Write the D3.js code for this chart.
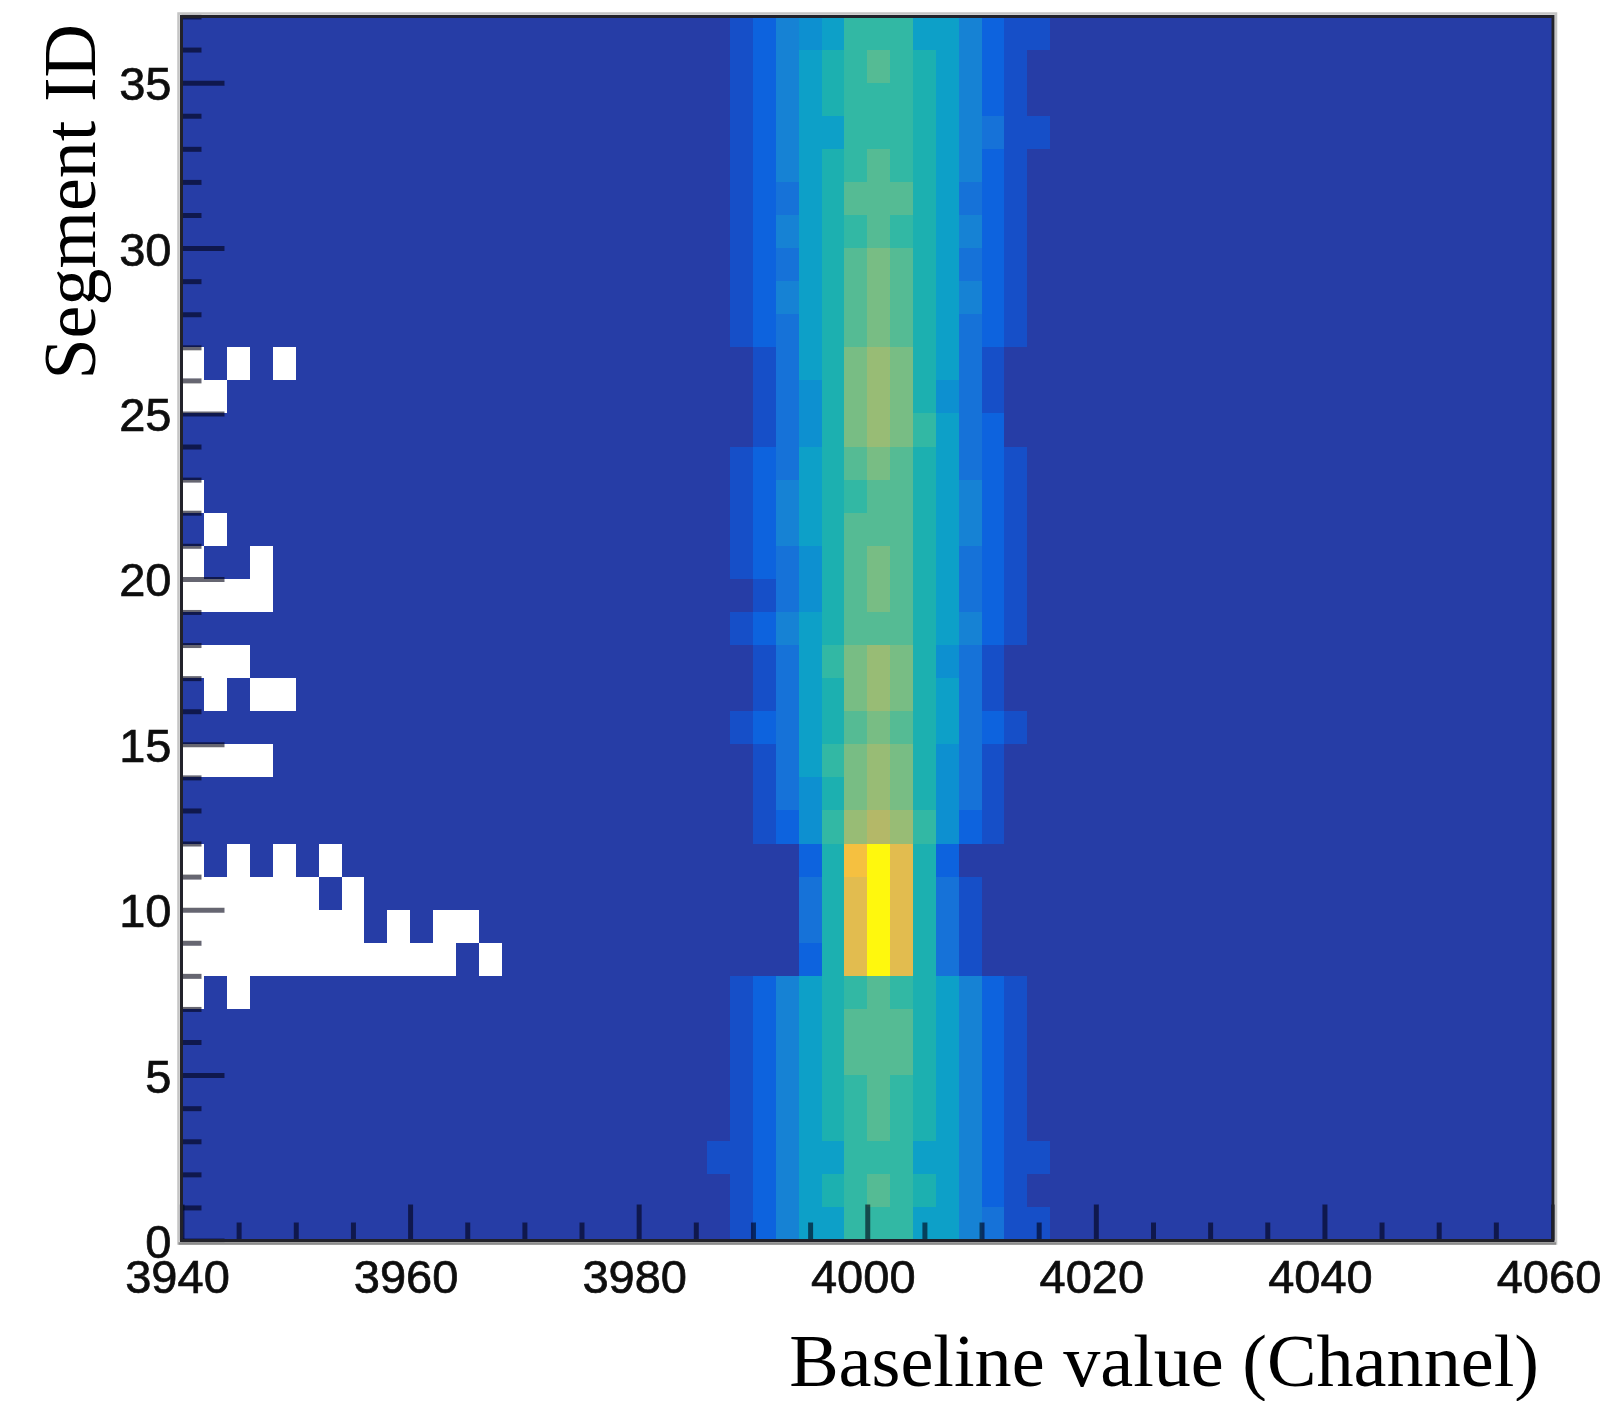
<!DOCTYPE html>
<html>
<head>
<meta charset="utf-8">
<script src="https://cdnjs.cloudflare.com/ajax/libs/d3/7.8.5/d3.min.js"></script>
<style>
html,body{margin:0;padding:0;background:#fff;}
svg{display:block;}
</style>
</head>
<body>
<svg id="chart" width="1619" height="1401"></svg>
<script>
// Channel at the lower edge of each coloured column around the peak
const bandChannels = [3986,3988,3990,3992,3994,3996,3998,4000,4002,4004,4006,4008,4010,4012,4014];
// Count level per segment (segment 0 first), one entry per band channel
const segmentLevels = [
 [0,1,2,4,6,6,8,8,8,6,6,4,3,1,1],   // 0
 [0,1,2,4,6,7,8,9,8,7,6,4,2,1,0],   // 1
 [1,1,2,4,6,6,8,8,8,6,6,4,2,1,1],   // 2
 [0,1,2,4,6,7,8,9,8,7,6,4,2,1,0],   // 3
 [0,1,2,4,6,7,8,9,8,7,6,4,2,1,0],   // 4
 [0,1,2,4,6,7,9,9,9,7,6,4,2,1,0],   // 5
 [0,1,2,4,6,7,9,9,9,7,6,4,2,1,0],   // 6
 [0,1,2,4,6,7,8,9,8,7,6,4,2,1,0],   // 7
 [0,0,0,0,2,7,13,15,13,7,3,1,0,0,0],// 8
 [0,0,0,0,3,7,13,15,13,7,3,1,0,0,0],// 9
 [0,0,0,0,3,7,13,15,13,7,3,1,0,0,0],// 10
 [0,0,0,0,2,7,14,15,13,7,2,0,0,0,0],// 11
 [0,0,1,2,5,8,11,12,11,8,5,2,1,0,0],// 12
 [0,0,1,3,5,7,10,11,10,7,5,3,1,0,0],// 13
 [0,0,1,3,6,8,10,11,10,7,5,3,1,0,0],// 14
 [0,1,2,3,6,7,9,10,9,7,6,3,2,1,0],  // 15
 [0,0,1,3,6,7,10,11,10,7,6,3,1,0,0],// 16
 [0,0,1,3,6,8,10,11,10,7,5,3,1,0,0],// 17
 [0,1,2,4,6,7,9,9,9,7,6,4,2,1,0],   // 18
 [0,0,1,3,5,7,9,10,9,7,6,3,2,1,0],  // 19
 [0,1,2,3,5,7,9,10,9,7,6,3,2,1,0],  // 20
 [0,1,2,4,6,7,9,9,9,7,6,4,2,1,0],   // 21
 [0,1,2,4,6,7,8,9,9,7,6,4,2,1,0],   // 22
 [0,1,2,3,6,7,9,10,9,7,6,3,2,1,0],  // 23
 [0,0,1,3,5,7,10,11,10,8,6,3,2,0,0],// 24
 [0,0,1,3,5,7,10,11,10,7,5,3,1,0,0],// 25
 [0,0,1,3,6,7,10,11,10,7,6,3,1,0,0],// 26
 [0,1,2,3,6,7,9,10,9,7,6,3,2,1,0],  // 27
 [0,1,2,4,6,7,9,10,9,7,6,4,2,1,0],  // 28
 [0,1,2,3,6,7,9,10,9,7,6,3,2,1,0],  // 29
 [0,1,2,4,6,7,8,9,8,7,6,4,2,1,0],   // 30
 [0,1,2,3,6,7,9,9,9,7,6,3,2,1,0],   // 31
 [0,1,2,4,6,7,8,9,8,7,6,4,2,1,0],   // 32
 [0,1,2,4,6,6,8,8,8,7,6,4,3,1,1],   // 33
 [0,1,2,4,6,7,8,8,8,7,6,4,2,1,0],   // 34
 [0,1,2,4,6,7,8,9,8,7,6,4,2,1,0],   // 35
 [0,1,2,4,5,6,8,8,8,6,6,4,2,1,1]    // 36
];
// Empty (white) cells: segment and the lower-edge channels with no entries
const emptySegments = [7,8,9,10,11,14,16,17,19,20,21,22,25,26];
const emptyChannels = [
 [3940,3944],
 [3940,3942,3944,3946,3948,3950,3952,3954,3956,3958,3960,3962,3966],
 [3940,3942,3944,3946,3948,3950,3952,3954,3958,3962,3964],
 [3940,3942,3944,3946,3948,3950,3954],
 [3940,3944,3948,3952],
 [3940,3942,3944,3946],
 [3942,3946,3948],
 [3940,3942,3944],
 [3940,3942,3944,3946],
 [3940,3946],
 [3942],
 [3940],
 [3940,3942],
 [3940,3944,3948]
];
const levelColors = ["#253ca6","#1450c8","#1064de","#1272d8","#1482d4","#0c90d0","#08a0c8","#1eb0b0","#30b8a4","#55bb94","#78bd84","#98bc74","#b4b868","#e2bc50","#f5c040","#fff80a"];
const xMajorTicks = [3940,3960,3980,4000,4020,4040,4060];
const yMajorTicks = [0,5,10,15,20,25,30,35];
const xLabel = "Baseline value (Channel)";
const yLabel = "Segment ID";

const xMin = 3940, xMax = 4060, binW = 2, yMax = 37;
const plotLeft = 181.5, plotRight = 1553, plotTop = 16.5, plotBottom = 1240.5;
const x = d3.scaleLinear().domain([xMin,xMax]).range([plotLeft,plotRight]);
const y = d3.scaleLinear().domain([0,yMax]).range([plotBottom,plotTop]);
const color = d3.scaleOrdinal().domain(d3.range(levelColors.length)).range(levelColors);

const svg = d3.select("#chart");
const defs = svg.append("defs");
defs.append("filter").attr("id","soft").attr("filterUnits","userSpaceOnUse")
  .attr("x",0).attr("y",0).attr("width",1619).attr("height",1401)
  .append("feGaussianBlur").attr("stdDeviation",0.7);

// Build the cell table from the named arrays
const emptyLookup = new Set();
emptySegments.forEach((s,i)=>emptyChannels[i].forEach(c=>emptyLookup.add(s+"|"+c)));
const cells = [];
d3.range(0,yMax).forEach(seg=>{
  d3.range(xMin,xMax,binW).forEach(ch=>{
    const idx = bandChannels.indexOf(ch);
    const level = idx>=0 ? segmentLevels[seg][idx] : 0;
    cells.push({seg,ch,level,empty:emptyLookup.has(seg+"|"+ch)});
  });
});

const plot = svg.append("g").attr("filter","url(#soft)").attr("shape-rendering","crispEdges");
plot.selectAll("rect.cell").data(cells).join("rect")
  .attr("class","cell")
  .attr("x",d=>Math.round(x(d.ch)))
  .attr("y",d=>Math.round(y(d.seg+1)))
  .attr("width",d=>Math.round(x(d.ch+binW))-Math.round(x(d.ch)))
  .attr("height",d=>Math.round(y(d.seg))-Math.round(y(d.seg+1)))
  .attr("fill",d=>d.empty?"#ffffff":color(d.level));

// Inside ticks
function styleAxis(g){
  g.select(".domain").remove();
  g.selectAll(".tick line").attr("stroke","#000814").attr("stroke-opacity",0.6).attr("stroke-width",5);
}
const ticksG = svg.append("g").attr("filter","url(#soft)");
ticksG.append("g").attr("transform",`translate(0,${plotBottom})`)
  .call(d3.axisBottom(x).tickValues(d3.range(xMin,xMax+1,5).filter(v=>!xMajorTicks.includes(v))).tickSize(-18).tickFormat(""))
  .call(styleAxis);
ticksG.append("g").attr("transform",`translate(${plotLeft},0)`)
  .call(d3.axisLeft(y).tickValues(d3.range(1,yMax+1).filter(v=>!yMajorTicks.includes(v))).tickSize(-20).tickFormat(""))
  .call(styleAxis);

const xAxis = d3.axisBottom(x).tickValues(xMajorTicks).tickSize(-36).tickFormat(d3.format("d")).tickPadding(0);
const yAxis = d3.axisLeft(y).tickValues(yMajorTicks).tickSize(-43).tickFormat(d3.format("d")).tickPadding(0);
const gx = ticksG.append("g").attr("transform",`translate(0,${plotBottom})`).call(xAxis).call(styleAxis);
const gy = ticksG.append("g").attr("transform",`translate(${plotLeft},0)`).call(yAxis).call(styleAxis);
[gx,gy].forEach(g=>g.selectAll("text")
  .attr("font-family","'Liberation Sans',Arial,sans-serif")
  .attr("font-size",47).attr("fill","#111").attr("stroke","#111").attr("stroke-width",0.7));
gx.selectAll("text").attr("x",-4.5).attr("y",52).attr("dy",0).attr("text-anchor","middle");
gy.selectAll("text").attr("x",-10).attr("dy",0).attr("y",17).attr("text-anchor","end");

// Frame: light outer edge, dark inner line
const frame = svg.append("g").attr("filter","url(#soft)").attr("fill","none");
frame.append("rect").attr("x",plotLeft-3).attr("y",plotTop-3).attr("width",plotRight-plotLeft+6).attr("height",plotBottom-plotTop+6)
  .attr("stroke","#c4c4c4").attr("stroke-width",2.5);
frame.append("line").attr("x1",plotLeft-3).attr("x2",plotRight+3).attr("y1",plotBottom+3).attr("y2",plotBottom+3)
  .attr("stroke","#8a8a8a").attr("stroke-width",2.5);
const framePath = d3.path();
framePath.moveTo(plotLeft,plotBottom); framePath.lineTo(plotLeft,plotTop); framePath.lineTo(plotRight,plotTop); framePath.lineTo(plotRight,plotBottom); framePath.closePath();
frame.append("path").attr("d",framePath.toString()).attr("stroke","#20222c").attr("stroke-width",3);

// Axis titles
svg.append("text").attr("x",1539).attr("y",1385.5).attr("text-anchor","end")
  .attr("font-family","'Liberation Serif','Times New Roman',serif").attr("font-size",74.2).attr("fill","#000").text(xLabel);
svg.append("text").attr("transform","translate(95,24) rotate(-90)").attr("text-anchor","end")
  .attr("font-family","'Liberation Serif','Times New Roman',serif").attr("font-size",74).attr("fill","#000").text(yLabel);
</script>
</body>
</html>
